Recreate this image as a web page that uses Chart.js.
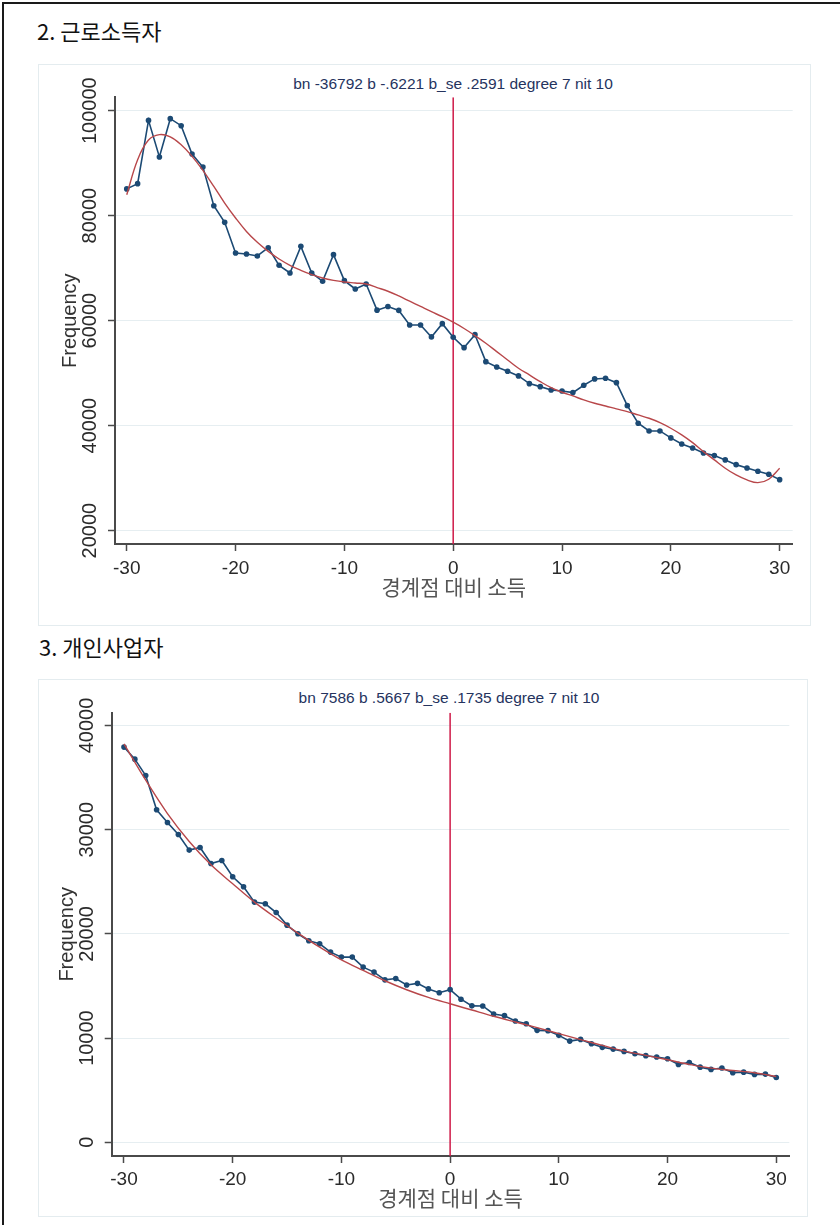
<!DOCTYPE html>
<html><head><meta charset="utf-8">
<script src="https://cdn.jsdelivr.net/npm/chart.js@4.4.1/dist/chart.umd.min.js"></script>
<style>
html,body{margin:0;padding:0;background:#fff;}
body{width:840px;height:1225px;position:relative;overflow:hidden;}
.frame{position:absolute;left:2px;top:2px;width:860px;height:1250px;border-top:2px solid #1a1a1a;border-left:2px solid #1a1a1a;}
.heading{position:absolute;font-family:'Noto Sans CJK KR',sans-serif;font-size:22px;color:#111;line-height:26px;white-space:pre;}
.panel{position:absolute;border:1px solid #e4ecef;box-sizing:border-box;}
.sub{position:absolute;font-family:'Liberation Sans',Arial,sans-serif;font-size:15.5px;color:#25335e;line-height:18px;white-space:nowrap;transform:translateX(-50%);}
canvas{position:absolute;}
</style></head>
<body>
<div class="frame"></div>
<div class="heading" id="h1" style="left:37px;top:16.6px;"></div>
<div class="panel" style="left:38px;top:64px;width:773px;height:562px;"></div>
<div class="sub" id="s1" style="left:453px;top:74.6px;"></div>
<canvas id="c1" width="773" height="561" style="left:38px;top:64px;width:773px;height:561px;"></canvas>

<div class="heading" id="h2" style="left:39px;top:633px;"></div>
<div class="panel" style="left:38px;top:679px;width:770px;height:538px;"></div>
<div class="sub" id="s2" style="left:449px;top:689px;"></div>
<canvas id="c2" width="769" height="538" style="left:38px;top:679px;width:769px;height:538px;"></canvas>

<script>
// ---------- data ----------
const xValues = [-30,-29,-28,-27,-26,-25,-24,-23,-22,-21,-20,-19,-18,-17,-16,-15,-14,-13,-12,-11,-10,-9,-8,-7,-6,-5,-4,-3,-2,-1,0,1,2,3,4,5,6,7,8,9,10,11,12,13,14,15,16,17,18,19,20,21,22,23,24,25,26,27,28,29,30];

const workFreq = [85100,86100,98150,91180,98480,97140,91750,89270,81900,78730,72900,72700,72320,73900,70540,69080,74150,69080,67500,72570,67620,66030,66980,62000,62700,61950,59180,59180,56900,59430,56830,54860,57330,52190,51180,50360,49470,48000,47430,46800,46610,46290,47700,48900,49030,48190,43810,40460,38990,38990,37660,36510,35750,34800,34290,33470,32570,31940,31310,30740,29710];

const workFit = [84000,90670,94400,95430,95000,93520,91300,88630,85580,82400,79560,77000,74920,73200,71750,70540,69580,68760,68130,67680,67370,67180,66980,66300,65600,64700,63700,62700,61700,60750,59700,58500,57150,55700,54100,52510,50930,49660,48380,47240,46360,45660,44900,44270,43750,43180,42670,42040,41400,40570,39500,38230,36760,35050,33470,31890,30610,29660,29140,29790,31890];

const bizFreq = [37930,36770,35200,31910,30690,29540,28040,28290,26750,27040,25480,24520,23050,22890,22050,20840,20010,19340,19050,18250,17770,17770,16810,16330,15590,15720,15100,15250,14720,14350,14650,13730,13090,13080,12310,12150,11640,11380,10740,10710,10260,9710,9870,9460,9110,8940,8720,8500,8310,8180,8020,7470,7660,7210,6990,7120,6670,6730,6510,6540,6220];

const bizFitX = [-30,-28,-26,-24,-22,-20,-18,-16,-14,-12,-10,-8,-6,-4,-2,0,2,4,6,8,10,12,14,16,18,20,22,24,26,28,30];
const bizFit = [38240,34750,31550,28870,26630,24810,23050,21520,20080,18730,17510,16490,15500,14640,13900,13290,12690,12090,11540,11000,10420,9850,9300,8750,8340,7920,7470,7110,6890,6670,6310];

const xTickValues = [-30,-20,-10,0,10,20,30];
const workYTicks = [20000,40000,60000,80000,100000];
const bizYTicks = [0,10000,20000,30000,40000];
const cutoff = 0;

const heading1 = '2. 근로소득자';
const heading2 = '3. 개인사업자';
const workSubtitle = 'bn -36792 b -.6221 b_se .2591 degree 7 nit 10';
const bizSubtitle = 'bn 7586 b .5667 b_se .1735 degree 7 nit 10';
const xTitle = '경계점 대비 소득';
const yTitle = 'Frequency';

document.getElementById('h1').textContent = heading1;
document.getElementById('h2').textContent = heading2;
document.getElementById('s1').textContent = workSubtitle;
document.getElementById('s2').textContent = bizSubtitle;

// ---------- styles ----------
const NAVY = '#1c4a74';
const FIT = '#b8474a';
const RED = '#cf1a48';
const AXIS = '#4a4a4a';
const TICK = '#2a2a2a';
const SANS = "'Liberation Sans', Arial, sans-serif";
const KR = "'Noto Sans CJK KR', sans-serif";

function pts(xs, ys) { return xs.map((x, i) => ({ x: x, y: ys[i] })); }

function build(id, o) {
  return new Chart(document.getElementById(id), {
    type: 'line',
    data: {
      datasets: [
        { data: pts(o.fitX, o.fit), borderColor: FIT, borderWidth: 1.4, pointRadius: 0, tension: 0.4,
          cubicInterpolationMode: o.mono ? 'monotone' : 'default', fill: false, order: 1 },
        { data: pts(xValues, o.freq), borderColor: NAVY, backgroundColor: NAVY, borderWidth: 1.6,
          pointRadius: 2.8, pointBorderWidth: 0, pointBackgroundColor: NAVY, tension: 0, fill: false, order: 2 },
        { data: [{ x: cutoff, y: o.ymin }, { x: cutoff, y: o.ymax }], borderColor: RED, borderWidth: 1.5,
          pointRadius: 0, fill: false, order: 3 }
      ]
    },
    options: {
      responsive: false, animation: false, devicePixelRatio: 1, events: [],
      layout: { padding: { left: o.padL, right: o.padR, top: o.padT, bottom: 0 } },
      plugins: { legend: { display: false }, tooltip: { enabled: false }, title: { display: false } },
      scales: {
        x: {
          type: 'linear', min: o.xmin, max: o.xmax,
          afterBuildTicks: s => { s.ticks = xTickValues.map(v => ({ value: v })); },
          afterFit: s => { s.height = o.xh; },
          ticks: { font: { family: SANS, size: 19 }, color: TICK, padding: o.xtp, minRotation: 0, maxRotation: 0,
                   autoSkip: false, callback: v => String(v) },
          grid: { drawOnChartArea: false, drawTicks: true, tickLength: 7, tickColor: AXIS, tickWidth: 1.5 },
          border: { display: true, color: AXIS, width: 2 },
          title: { display: true, text: xTitle, font: { family: KR, size: 21 }, color: '#555',
                   padding: { top: 0, bottom: o.xtitlePad } }
        },
        y: {
          type: 'linear', min: o.ymin, max: o.ymax,
          afterBuildTicks: s => { s.ticks = o.yTicks.map(v => ({ value: v })); },
          afterFit: s => { s.width = o.yw; },
          ticks: { font: { family: SANS, size: 20 }, color: TICK, padding: o.ytp, minRotation: 90, maxRotation: 90,
                   crossAlign: 'center', autoSkip: false, callback: v => String(v) },
          grid: { color: '#e6eef1', lineWidth: 1, drawTicks: true, tickLength: 7, tickColor: AXIS, tickWidth: 1.5 },
          border: { display: true, color: AXIS, width: 2 },
          title: { display: true, text: yTitle, font: { family: SANS, size: 20 }, color: '#333',
                   padding: { top: o.ytitlePad, bottom: 0 } }
        }
      }
    }
  });
}

build('c1', {
  freq: workFreq, fitX: xValues, fit: workFit, mono: false, yTicks: workYTicks,
  xmin: -31.08, xmax: 31.2, ymin: 17450, ymax: 102550,
  padL: 10, padR: 18.3, padT: 33.3, yw: 67, xh: 81,
  xtp: 6.4, xtitlePad: 24.9, ytp: -15.9, ytitlePad: 10
});

build('c2', {
  freq: bizFreq, fitX: bizFitX, fit: bizFit, mono: true, yTicks: bizYTicks,
  xmin: -31.13, xmax: 31.2, ymin: -1320, ymax: 41230,
  padL: 10, padR: 17.7, padT: 33.7, yw: 63.7, xh: 61,
  xtp: 5.6, xtitlePad: 6.4, ytp: -10.6, ytitlePad: 7
});
</script>
</body></html>
